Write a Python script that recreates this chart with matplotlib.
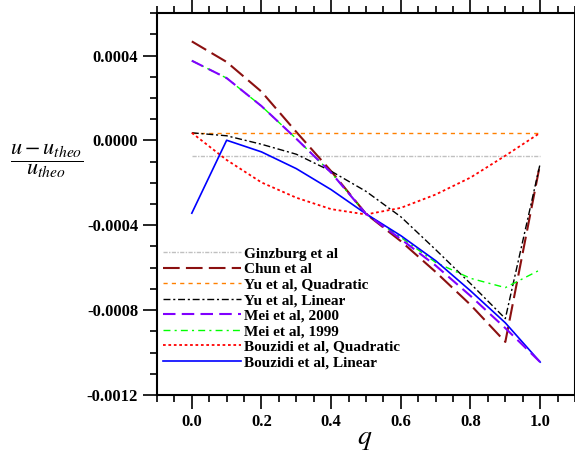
import matplotlib

matplotlib.use("Agg")

import matplotlib.pyplot as plt  # noqa: E402
from matplotlib.ticker import MultipleLocator, FormatStrFormatter  # noqa: E402

# data, in units of 1e-4
q = [0.0, 0.1, 0.2, 0.3, 0.4, 0.5, 0.6, 0.7, 0.8, 0.9, 1.0]
ginzburg = [-0.73] * 11
chun = [4.67, 3.70, 2.30, 0.40, -1.45, -3.46, -4.75, -6.20, -7.75, -9.50, -1.09]
yu_quad = [0.36] * 11
yu_lin = [0.36, 0.22, -0.18, -0.65, -1.45, -2.40, -3.60, -5.15, -6.75, -8.40, -1.09]
mei_2000 = [3.76, 2.94, 1.62, 0.08, -1.52, -3.46, -4.65, -5.90, -7.33, -8.85, -10.45]
mei_1999 = [3.76, 2.94, 1.62, 0.08, -1.52, -3.46, -4.57, -5.75, -6.50, -6.94, -6.10]
bouz_quad = [0.36, -0.92, -1.98, -2.70, -3.24, -3.49, -3.18, -2.55, -1.75, -0.72, 0.36]
bouz_lin = [-3.43, 0.01, -0.54, -1.33, -2.32, -3.46, -4.49, -5.67, -7.09, -8.60, -10.45]

# label, values, colour, dash pattern, width, zorder
series = [
    ("Ginzburg et al", ginzburg, "#c0c0c0", (0, (3, 1, 1, 1)), 1.0, 2),
    ("Chun et al", chun, "#8b1010", (0, (8, 3)), 1.5, 2),
    ("Yu et al, Quadratic", yu_quad, "#ff8000", (0, (3, 3)), 1.0, 2),
    ("Yu et al, Linear", yu_lin, "black", (0, (5, 2, 1.5, 2)), 1.0, 2),
    ("Mei et al, 2000", mei_2000, "#8000ff", (0, (6, 3)), 1.5, 3),
    ("Mei et al, 1999", mei_1999, "#00ff00", (0, (5, 3, 1.5, 3)), 1.0, 2),
    ("Bouzidi et al, Quadratic", bouz_quad, "#ff0000", (0, (1.5, 1.5)), 1.3, 2),
    ("Bouzidi et al, Linear", bouz_lin, "#0000ff", "-", 1.2, 2),
]

plt.rcParams["font.family"] = ["Liberation Serif", "DejaVu Serif"]
plt.rcParams["mathtext.fontset"] = "stix"

fig = plt.figure(figsize=(5.75, 4.55), dpi=100)
ax = fig.add_axes([0.273, 0.132, 0.727, 0.839])

for label, vals, color, ls, lw, z in series:
    ax.plot(q, [v * 1e-4 for v in vals], color=color, linestyle=ls,
            linewidth=lw, label=label, zorder=z)

ax.set_xlim(-0.1, 1.1)
ax.set_ylim(-0.0012, 0.0006)
ax.xaxis.set_major_locator(MultipleLocator(0.2))
ax.xaxis.set_minor_locator(MultipleLocator(0.05))
ax.yaxis.set_major_locator(MultipleLocator(0.0004))
ax.yaxis.set_minor_locator(MultipleLocator(0.0001))
ax.xaxis.set_major_formatter(FormatStrFormatter("%.1f"))
ax.yaxis.set_major_formatter(FormatStrFormatter("%.4f"))
ax.tick_params(which="both", direction="out", top=True, right=True,
               width=1.2)
ax.tick_params(which="major", length=10, labelsize=12)
ax.tick_params(which="minor", length=5)
for lab in ax.get_xticklabels() + ax.get_yticklabels():
    lab.set_fontweight("bold")
for spine in ax.spines.values():
    spine.set_linewidth(1.5)

ax.set_xlabel(r"$q$", fontsize=20, va="center")
ax.xaxis.set_label_coords(0.496, -0.118)
ax.set_ylabel(r"$\dfrac{u - u_{theo}}{u_{theo}}$", fontsize=16, rotation=0,
              va="center", ha="center")
ax.yaxis.set_label_coords(-0.264, 0.615)

ax.legend(loc="upper left", bbox_to_anchor=(0.014, 0.388), frameon=False,
          borderpad=0, handlelength=5.1, handletextpad=0.2,
          labelspacing=0.12, borderaxespad=0,
          prop={"weight": "bold", "size": 11})

fig.savefig("out.png", dpi=100)
